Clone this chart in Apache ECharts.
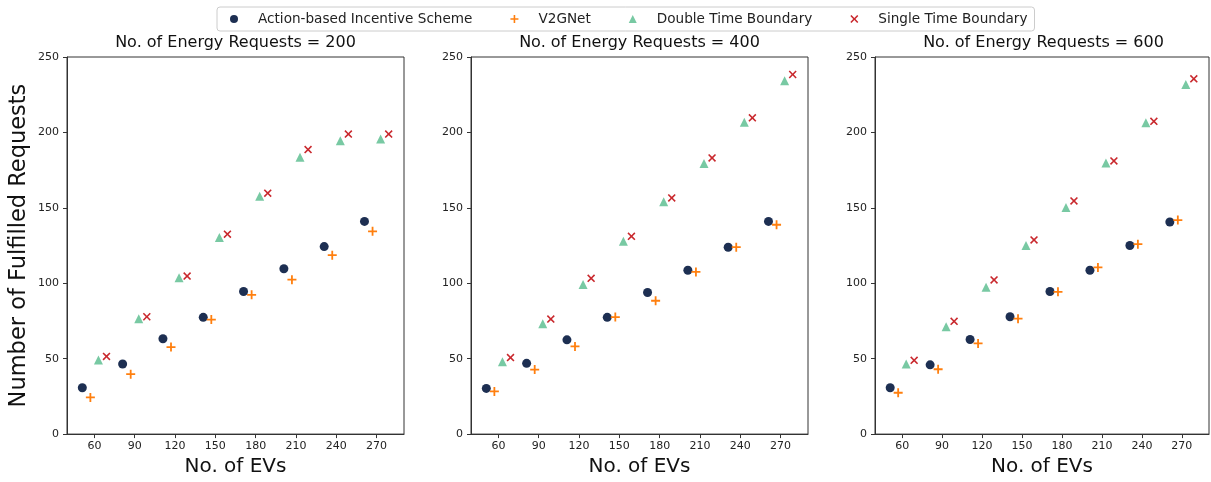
<!DOCTYPE html>
<html>
<head>
<meta charset="utf-8">
<script src="https://cdn.jsdelivr.net/npm/echarts@6/dist/echarts.min.js"></script>
<style>
  html, body { margin: 0; padding: 0; background: #fff; }
  #chart { width: 1211px; height: 482px; }
</style>
</head>
<body>
<div id="chart"></div>
<script>
// x positions (No. of EVs) of each scheme
var evAction = [51, 81, 111, 141, 171, 201, 231, 261]
var evV2G = [57, 87, 117, 147, 177, 207, 237, 267]
var evDouble = [63, 93, 123, 153, 183, 213, 243, 273]
var evSingle = [69, 99, 129, 159, 189, 219, 249, 279]

var xTicks = [60, 90, 120, 150, 180, 210, 240, 270]
var requestCounts = [200, 400, 600]
var schemeNames = ['Action-based Incentive Scheme', 'V2GNet', 'Double Time Boundary', 'Single Time Boundary']

// fulfilled requests, 200 energy requests
var action200 = [30.7, 46.5, 63.2, 77.4, 94.5, 109.6, 124.3, 141]
var v2g200 = [24.3, 39.7, 57.7, 75.9, 92.3, 102.4, 118.6, 134.4]
var double200 = [49.1, 76.5, 103.7, 130.3, 157.7, 183.6, 194.5, 195.6]
var single200 = [51.5, 77.8, 104.8, 132.5, 159.7, 188.6, 198.9, 198.9]

// 400 energy requests
var action400 = [30.3, 46.9, 62.5, 77.4, 93.9, 108.6, 123.9, 141]
var v2g400 = [28.3, 42.8, 58.1, 77.6, 88.4, 107.5, 123.9, 138.8]
var double400 = [48.0, 73.2, 99.1, 127.8, 154.1, 179.4, 206.8, 234.2]
var single400 = [50.7, 76.3, 103.3, 131.1, 156.6, 183.1, 209.7, 238.4]

// 600 energy requests
var action600 = [30.7, 45.9, 62.7, 77.8, 94.5, 108.6, 125, 140.6]
var v2g600 = [27.4, 43, 60.1, 76.5, 94.3, 110.5, 125.9, 141.9]
var double600 = [46.5, 71.1, 97.4, 125, 150.2, 179.8, 206.4, 231.8]
var single600 = [48.9, 74.8, 102.2, 128.7, 154.6, 181.1, 207.4, 235.5]

var panels = [
  [action200, v2g200, double200, single200],
  [action400, v2g400, double400, single400],
  [action600, v2g600, double600, single600]
]
var evLists = [evAction, evV2G, evDouble, evSingle]

var colors = ['#1d2f52', '#ff7f0e', '#78c9a3', '#c9282d']
var plusPath = 'path://M4,0H6V4H10V6H6V10H4V6H0V4H4Z'
var crossPath = 'path://M0,1.4L1.4,0L5,3.6L8.6,0L10,1.4L6.4,5L10,8.6L8.6,10L5,6.4L1.4,10L0,8.6L3.6,5Z'
var symbols = ['circle', plusPath, 'triangle', crossPath]
var sizes = [9, 9, 9, 8]

var font = 'DejaVu Sans'
var gridLefts = [67, 471, 875]
var gridWidths = [337, 337, 334]

var grids = [], xAxes = [], yAxes = [], titles = [], seriesList = []
panels.forEach(function (panel, p) {
  grids.push({
    left: gridLefts[p], top: 57, width: gridWidths[p], height: 380,
    show: true, borderColor: '#333', borderWidth: 1
  })
  titles.push({
    text: 'No. of Energy Requests = ' + requestCounts[p],
    left: 67 + 404 * p + 168.5, top: 35, textAlign: 'center', padding: 0,
    textStyle: { fontFamily: font, fontSize: 16, fontWeight: 'normal', color: '#111' }
  })
  xAxes.push({
    type: 'value', gridIndex: p, min: 39.6, max: 290.4,
    name: 'No. of EVs', nameLocation: 'middle', nameGap: 20,
    nameTextStyle: { fontFamily: font, fontSize: 20, color: '#111' },
    splitLine: { show: false },
    axisLine: { show: true, lineStyle: { color: '#333' } },
    axisTick: { show: true, inside: false, length: 4, customValues: xTicks, lineStyle: { color: '#333' } },
    axisLabel: { customValues: xTicks, margin: 7, fontFamily: font, fontSize: 11, color: '#222' }
  })
  yAxes.push({
    type: 'value', gridIndex: p, min: 0, max: 250, interval: 50,
    name: p === 0 ? 'Number of Fulfilled Requests' : '',
    nameLocation: 'middle', nameGap: 36,
    nameTextStyle: { fontFamily: font, fontSize: 22.5, color: '#111' },
    splitLine: { show: false },
    axisLine: { show: true, lineStyle: { color: '#333' } },
    axisTick: { show: true, length: 4, lineStyle: { color: '#333' } },
    axisLabel: { margin: 8, fontFamily: font, fontSize: 11, color: '#222' }
  })
  panel.forEach(function (vals, s) {
    seriesList.push({
      name: schemeNames[s],
      type: 'scatter',
      xAxisIndex: p, yAxisIndex: p,
      symbol: symbols[s],
      symbolSize: sizes[s],
      itemStyle: { color: colors[s], opacity: 1 },
      data: vals.map(function (v, i) { return [evLists[s][i], v] })
    })
  })
})

var chart = echarts.init(document.getElementById('chart'), null, { renderer: 'canvas' })
chart.setOption({
  animation: false,
  color: colors,
  title: titles,
  legend: {
    data: schemeNames,
    left: 217, top: 7,
    padding: [5, 7, 5, 13],
    itemGap: 38, itemWidth: 8, itemHeight: 8,
    borderColor: '#ccc', borderWidth: 1, borderRadius: 3,
    formatter: '{s| }{name}',
    textStyle: {
      fontFamily: font, fontSize: 13.6, color: '#222',
      rich: { s: { width: 15 } }
    }
  },
  grid: grids,
  xAxis: xAxes,
  yAxis: yAxes,
  series: seriesList
})
</script>
</body>
</html>
